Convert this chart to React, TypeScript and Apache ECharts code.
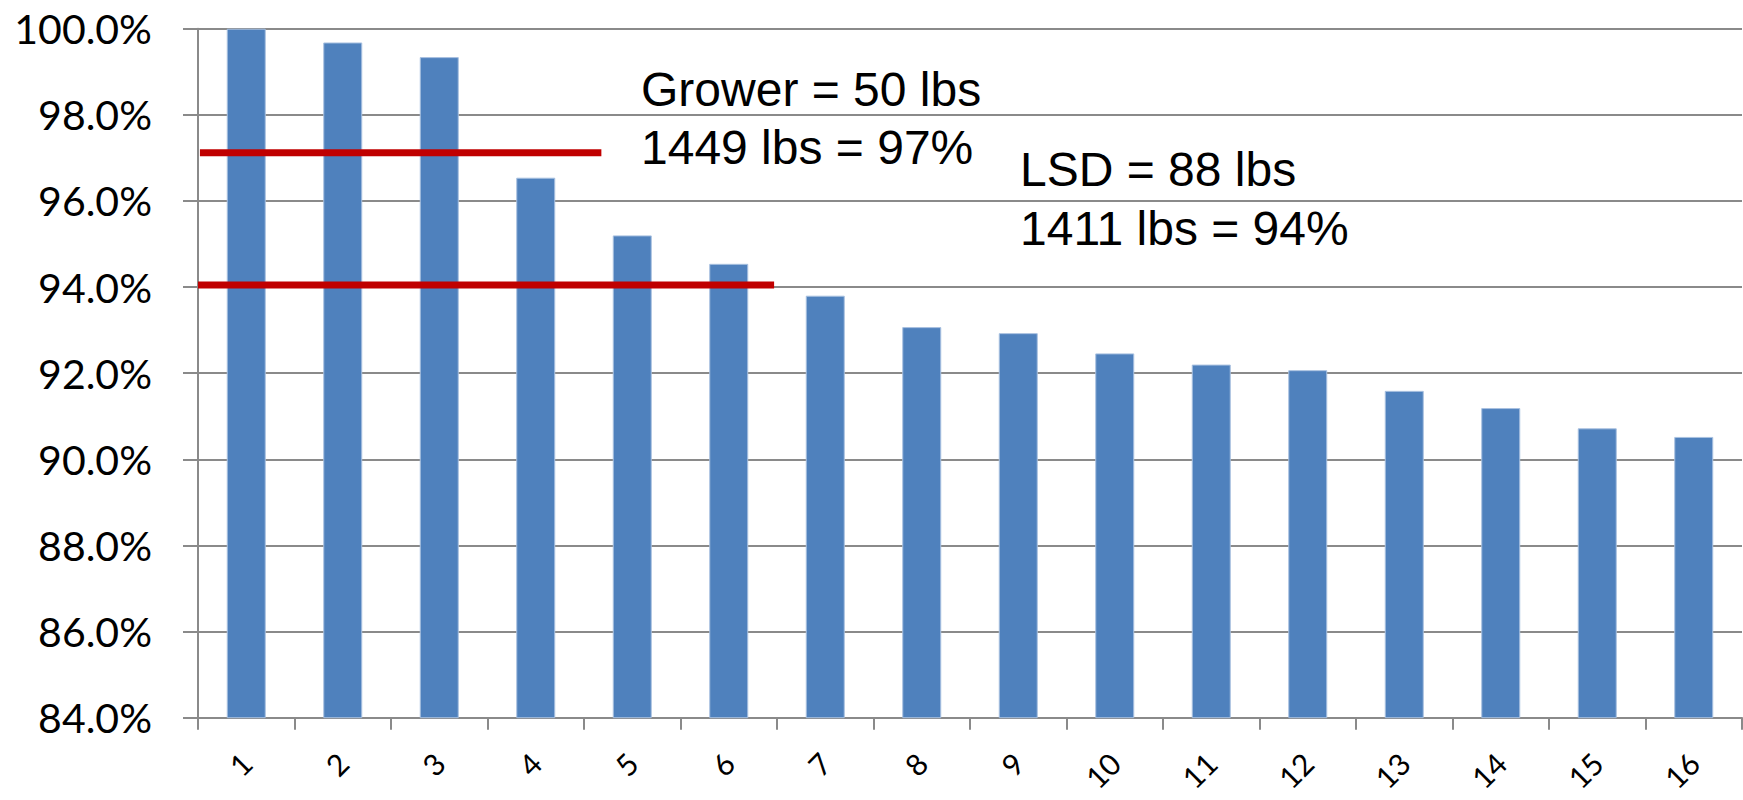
import React, { useEffect, useRef } from "react";
import * as echarts from "echarts";

const categories = ["1", "2", "3", "4", "5", "6", "7", "8", "9", "10", "11", "12", "13", "14", "15", "16"];
const yieldPct = [100, 99.68, 99.34, 96.54, 95.2, 94.54, 93.8, 93.07, 92.93, 92.46, 92.2, 92.07, 91.59, 91.19, 90.72, 90.52];
const growerLevel = 97.12;
const growerSpan = [0.02, 4.18];
const lsdLevel = 94.05;
const lsdSpan = [0, 5.97];
const growerText = ["Grower = 50 lbs", "1449 lbs = 97%"];
const lsdText = ["LSD = 88 lbs", "1411 lbs = 94%"];
const yMin = 84;
const yMax = 100;
const yStep = 2;

export default function App() {
  const ref = useRef<HTMLDivElement>(null);
  useEffect(() => {
    if (!ref.current) return;
    const chart = echarts.init(ref.current, null, { renderer: "svg" });
    const gray = "#8a8a8a";
    const annFont = "Liberation Sans, Arial, sans-serif";
    chart.setOption({
      animation: false,
      backgroundColor: "#ffffff",
      grid: { left: 198, top: 28.7, width: 1544, height: 689, containLabel: false, outerBoundsMode: "none" },
      xAxis: [
        {
          type: "category",
          data: categories,
          boundaryGap: true,
          axisLine: { lineStyle: { color: gray, width: 2 } },
          axisTick: { show: true, length: 12, lineStyle: { color: gray, width: 2 } },
          axisLabel: { rotate: 45, margin: 40, fontSize: 30, lineHeight: 30, color: "#000", fontFamily: "Lato, sans-serif" },
        },
        { type: "value", min: 0, max: 16, show: false },
      ],
      yAxis: {
        type: "value",
        min: yMin,
        max: yMax,
        interval: yStep,
        axisLine: { show: true, lineStyle: { color: gray, width: 2 } },
        axisTick: { show: true, length: 15, lineStyle: { color: gray, width: 2 } },
        splitLine: { lineStyle: { color: gray, width: 2 } },
        axisLabel: {
          formatter: (v: number) => v.toFixed(1) + "%",
          fontSize: 41,
          color: "#000",
          margin: 46,
          fontFamily: "Lato, sans-serif",
        },
      },
      series: [
        {
          type: "bar",
          data: yieldPct,
          barWidth: 39,
          itemStyle: { color: "#4F81BD", borderColor: "#a9c1e0", borderWidth: 1 },
          z: 2,
        },
        {
          type: "line",
          xAxisIndex: 1,
          data: growerSpan.map((x) => [x, growerLevel]),
          symbol: "none",
          lineStyle: { color: "#C00000", width: 7 },
          z: 5,
        },
        {
          type: "line",
          xAxisIndex: 1,
          data: lsdSpan.map((x) => [x, lsdLevel]),
          symbol: "none",
          lineStyle: { color: "#C00000", width: 7 },
          z: 5,
        },
      ],
      graphic: [
        { type: "text", left: 641, top: 89.5 - 24, style: { text: growerText[0], font: `48px ${annFont}`, fill: "#000" }, z: 10 },
        { type: "text", left: 641, top: 147.5 - 24, style: { text: growerText[1], font: `48px ${annFont}`, fill: "#000" }, z: 10 },
        { type: "text", left: 1020, top: 169.5 - 24, style: { text: lsdText[0], font: `48px ${annFont}`, fill: "#000" }, z: 10 },
        { type: "text", left: 1020, top: 228.5 - 24, style: { text: lsdText[1], font: `48px ${annFont}`, fill: "#000" }, z: 10 },
      ],
    });
    return () => chart.dispose();
  }, []);
  return <div ref={ref} style={{ position: "fixed", left: 0, top: 0, width: 1743, height: 800 }} />;
}
